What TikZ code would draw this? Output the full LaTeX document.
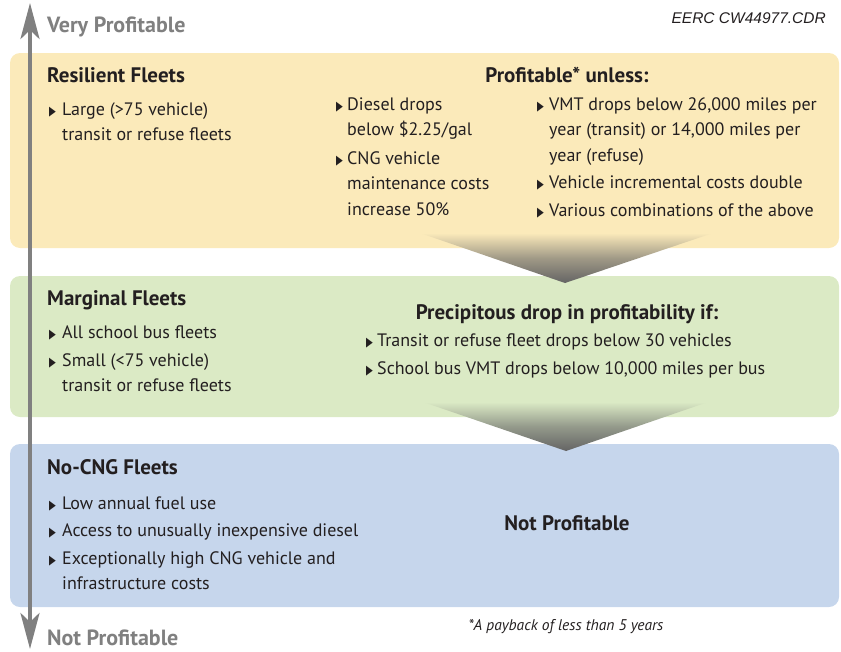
\documentclass[tikz,border=0pt]{standalone}
\usepackage{fontspec}
\usepackage{graphicx}
\setmainfont{PT Sans}
\newfontfamily\symf{DejaVu Sans}
\newfontfamily\arialf{Liberation Sans}
\usetikzlibrary{arrows.meta}
\definecolor{ybox}{RGB}{251,234,186}
\definecolor{gbox}{RGB}{219,234,197}
\definecolor{bbox}{RGB}{198,214,236}
\definecolor{axisgray}{RGB}{128,128,128}
\definecolor{ink}{RGB}{35,31,32}
\definecolor{funnelgray}{RGB}{100,100,100}
\newcommand\mytri{{\symf\fontsize{13}{13}\selectfont\scalebox{0.68}[1]{▶}}}
\newcommand\mylines[1]{\parbox[t]{400pt}{\raggedright #1}}
\begin{document}
\begin{tikzpicture}[x=1pt,y=-1pt,
  every node/.style={inner sep=0pt,text=ink},
  body/.style={anchor=base west,font=\fontsize{18}{25.5}\selectfont},
  bul/.style={anchor=base west},
  head/.style={anchor=base west,font=\bfseries\fontsize{21}{24}\selectfont},
  chead/.style={anchor=base,font=\bfseries\fontsize{21}{24}\selectfont},
  scale label/.style={anchor=base west,text=axisgray,font=\bfseries\fontsize{22}{24}\selectfont},
  band/.style={rounded corners=10pt},
  funnel/.style={bottom color=funnelgray}]
\useasboundingbox (0,0) rectangle (841,651);
% bands
\fill[band,ybox] (10,53) rectangle (839,248);
\fill[band,gbox] (10,276) rectangle (839,417);
\fill[band,bbox] (10,444) rectangle (839,607);
% funnels
\shade[funnel,top color=ybox,middle color=ybox!40!funnelgray] (420,233) -- (713,233) -- (565,283) -- cycle;
\shade[funnel,top color=gbox,middle color=gbox!40!funnelgray] (423,402) -- (708,402) -- (566,451) -- cycle;
% axis
\coordinate (atop) at (30,3);
\coordinate (abot) at (30,649);
\draw[axisgray,line width=4pt,{Stealth[length=36pt,width=19pt,inset=9pt]}-{Stealth[length=36pt,width=19pt,inset=9pt]}] (atop) -- (abot);
\node[scale label] (vp) at (47,32) {Very Profitable};
\node[scale label] (np) at (47,645) {Not Profitable};
\node[anchor=base east,font=\arialf\itshape\fontsize{15.5}{17}\selectfont] (code) at (826,23) {EERC CW44977.CDR};
% yellow band
\node[head] (rf) at (47,82) {Resilient Fleets};
\node[bul] (rb1) at (49,115) {\mytri};
\node[body] (rt1) at (62,115) {\mylines{Large (>75 vehicle)\\transit or refuse fleets}};
\node[chead] (pu) at (567,82) {Profitable* unless:};
\node[bul] (db1) at (336,110) {\mytri};
\node[body] (dt1) at (347,110) {\mylines{Diesel drops\\below \$2.25/gal}};
\node[bul] (db2) at (336,164) {\mytri};
\node[body] (dt2) at (347,164) {\mylines{CNG vehicle\\maintenance costs\\increase 50\%}};
\node[bul] (vb1) at (537,110) {\mytri};
\node[body] (vt1) at (549,110) {\mylines{VMT drops below 26,000 miles per\\year (transit) or 14,000 miles per\\year (refuse)}};
\node[bul] (vb2) at (537,188) {\mytri};
\node[body] (vt2) at (549,188) {Vehicle incremental costs double};
\node[bul] (vb3) at (537,216) {\mytri};
\node[body] (vt3) at (549,216) {Various combinations of the above};
% green band
\node[head] (mf) at (47,305) {Marginal Fleets};
\node[bul] (mb1) at (49,338) {\mytri};
\node[body] (mt1) at (62,338) {All school bus fleets};
\node[bul] (mb2) at (49,366) {\mytri};
\node[body] (mt2) at (62,366) {\mylines{Small (<75 vehicle)\\transit or refuse fleets}};
\node[chead] (pd) at (567,319) {Precipitous drop in profitability if:};
\node[bul] (pb1) at (366,346) {\mytri};
\node[body] (pt1) at (377,346) {Transit or refuse fleet drops below 30 vehicles};
\node[bul] (pb2) at (366,374) {\mytri};
\node[body] (pt2) at (377,374) {School bus VMT drops below 10,000 miles per bus};
% blue band
\node[head] (nf) at (47,474) {No-CNG Fleets};
\node[bul] (nb1) at (49,509) {\mytri};
\node[body] (nt1) at (62,509) {Low annual fuel use};
\node[bul] (nb2) at (49,536) {\mytri};
\node[body] (nt2) at (62,536) {Access to unusually inexpensive diesel};
\node[bul] (nb3) at (49,564) {\mytri};
\node[body] (nt3) at (62,564) {\mylines{Exceptionally high CNG vehicle and\\infrastructure costs}};
\node[chead] (npc) at (567,530) {Not Profitable};
\node[anchor=base,font=\itshape\fontsize{15.5}{17}\selectfont] (fn) at (566,630) {*A payback of less than 5 years};
\end{tikzpicture}
\end{document}
